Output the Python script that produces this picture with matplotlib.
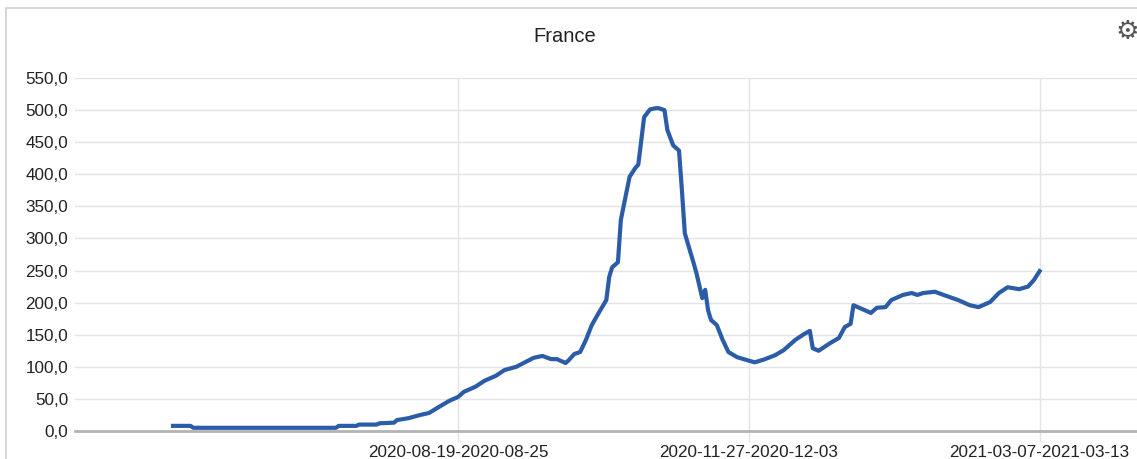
"""France weekly incidence line, recreated with matplotlib."""

import matplotlib.pyplot as plt
from matplotlib.patches import Rectangle

# day index (0 = first data point) and value
days = [0, 6, 7, 56, 57, 63, 64, 70, 71, 76,
        77, 81, 85, 88, 92, 95, 98, 100, 104, 107,
        111, 114, 118, 121, 124, 127, 130, 132, 135, 136,
        138, 140, 142, 144, 146, 149, 150, 151, 153, 154,
        157, 159, 160, 162, 164, 166, 167, 169, 170, 172,
        174, 175, 176, 179, 180, 182, 183, 184, 185, 187,
        189, 191, 194, 197, 200, 203, 207, 210, 214, 217,
        219, 220, 222, 226, 229, 231, 233, 234, 237, 240,
        242, 245, 247, 251, 254, 256, 258, 262, 265, 270,
        274, 277, 281, 284, 287, 291, 294, 296, 298]
values = [8, 8, 5, 5, 8, 8, 10, 10, 12, 13,
          17, 20, 25, 28, 39, 47, 53, 61, 69, 78,
          86, 95, 100, 107, 114, 117, 112, 112, 106, 110,
          120, 123, 142, 165, 181, 204, 240, 255, 263, 329,
          396, 410, 415, 489, 501, 503, 503, 500, 469, 445,
          437, 375, 308, 262, 246, 207, 220, 188, 173, 165,
          142, 123, 115, 111, 107, 111, 118, 126, 142, 151,
          156, 129, 125, 137, 145, 162, 167, 196, 190, 184,
          192, 193, 204, 212, 215, 212, 215, 217, 212, 204,
          196, 193, 201, 215, 224, 221, 225, 235, 249]

tick_days = [98, 198, 298]
tick_labels = ["2020-08-19-2020-08-25", "2020-11-27-2020-12-03", "2021-03-07-2021-03-13"]
y_ticks = [0, 50, 100, 150, 200, 250, 300, 350, 400, 450, 500, 550]

plt.rcParams["font.family"] = ["Liberation Sans", "DejaVu Sans"]

fig = plt.figure(figsize=(11.37, 4.59), dpi=100)
fig.patches.append(Rectangle((6 / 1137, -0.1), 1.2, (459 - 8) / 459 + 0.1,
                             transform=fig.transFigure, fill=False,
                             edgecolor="#d0d0d0", linewidth=1.2))
ax = fig.add_axes([0.066, 0.061, 0.934, 0.769])

ax.plot(days, values, color="#2b5ca8", linewidth=3.0, solid_joinstyle="round", zorder=3)
ax.axhline(0, color="#b4b4b4", linewidth=2, zorder=2, clip_on=False)

ax.set_xlim(-33.7, 331.5)
ax.set_ylim(0, 550)
ax.set_yticks(y_ticks)
ax.set_yticklabels([f"{v:.1f}".replace(".", ",") for v in y_ticks])
ax.set_xticks(tick_days)
ax.set_xticklabels(tick_labels)

ax.grid(True, color="#e4e4e4", linewidth=1, zorder=0)
ax.set_axisbelow(True)
for spine in ax.spines.values():
    spine.set_visible(False)
ax.tick_params(axis="y", length=0, pad=5, labelsize=12.3, labelcolor="#222222")
ax.tick_params(axis="x", length=8, color="#e4e4e4", width=1, pad=2,
               labelsize=12.3, labelcolor="#222222")

fig.text(565 / 1137, 1 - 36 / 459, "France", ha="center", va="center",
         fontsize=14.5, color="#222222")
fig.text(1127 / 1137, 1 - 32 / 459, "\u2699", ha="center", va="center",
         fontsize=19, color="#555555", family=["DejaVu Sans"], fontweight="bold")

fig.savefig("out.png", dpi=100)
